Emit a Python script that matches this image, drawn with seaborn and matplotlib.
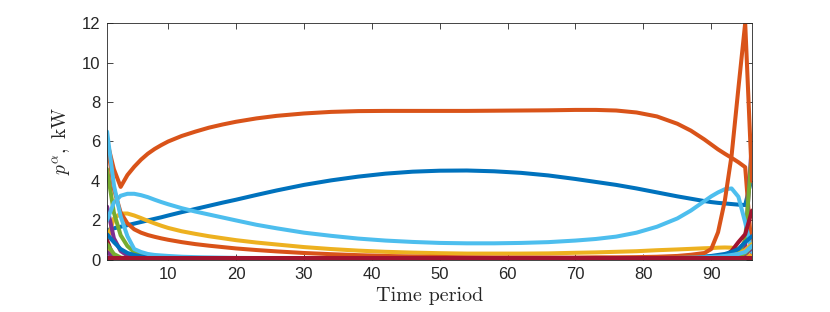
import numpy as np
import pandas as pd
import matplotlib
matplotlib.use("Agg")
import matplotlib.pyplot as plt
import seaborn as sns

# fine time grid for the smooth curves
t_fine = [1, 2, 3, 4, 5, 6, 7, 8, 9, 10, 12, 14, 16, 18, 20, 23, 26, 30, 34, 38, 42, 46,
          50, 54, 58, 62, 66, 70, 73, 76, 79, 82, 85, 87, 89, 90, 91, 92, 93, 94, 95, 96]
# coarse time grid for the lines that sit near zero
t_coarse = [1, 2, 3, 4, 5, 6, 7, 8, 10, 12, 15, 20, 30, 40, 50, 60, 70, 80, 85, 88, 90,
            91, 92, 93, 94, 95, 96]

blue_a = [1.5, 1.6, 1.68, 1.76, 1.84, 1.92, 2.0, 2.08, 2.16, 2.25, 2.42, 2.58, 2.74, 2.9,
          3.05, 3.29, 3.52, 3.8, 4.03, 4.22, 4.37, 4.47, 4.52, 4.53, 4.49, 4.41, 4.28, 4.1,
          3.95, 3.8, 3.62, 3.42, 3.22, 3.1, 2.98, 2.93, 2.89, 2.86, 2.83, 2.8, 2.78, 4.2]
orange_a = [6.0, 4.6, 3.7, 4.3, 4.72, 5.08, 5.38, 5.62, 5.82, 6.0, 6.28, 6.5, 6.7, 6.86,
            7.0, 7.17, 7.3, 7.42, 7.5, 7.54, 7.55, 7.55, 7.55, 7.55, 7.56, 7.57, 7.58, 7.6,
            7.6, 7.57, 7.47, 7.27, 6.9, 6.55, 6.1, 5.85, 5.6, 5.38, 5.17, 4.95, 4.7, 0.3]
yellow_a = [1.0, 2.1, 2.35, 2.35, 2.25, 2.12, 1.98, 1.85, 1.73, 1.62, 1.45, 1.32, 1.2, 1.1,
            1.0, 0.88, 0.78, 0.65, 0.55, 0.47, 0.41, 0.37, 0.34, 0.32, 0.32, 0.32, 0.33, 0.36,
            0.38, 0.41, 0.44, 0.49, 0.53, 0.56, 0.59, 0.6, 0.62, 0.63, 0.62, 0.55, 0.35, 0.15]
lightblue_a = [2.0, 2.9, 3.25, 3.35, 3.35, 3.28, 3.18, 3.05, 2.93, 2.82, 2.62, 2.45, 2.3,
               2.15, 2.0, 1.78, 1.6, 1.38, 1.22, 1.08, 0.98, 0.91, 0.86, 0.84, 0.84, 0.86,
               0.9, 0.98, 1.06, 1.18, 1.38, 1.68, 2.1, 2.5, 2.98, 3.22, 3.42, 3.58, 3.62, 3.2,
               1.9, 0.4]
orange_b = [6.0, 3.6, 2.4, 1.85, 1.55, 1.38, 1.26, 1.17, 1.09, 1.02, 0.9, 0.8, 0.72, 0.65,
            0.58, 0.5, 0.43, 0.35, 0.29, 0.24, 0.2, 0.17, 0.15, 0.13, 0.12, 0.12, 0.12, 0.12,
            0.13, 0.13, 0.14, 0.16, 0.2, 0.26, 0.35, 0.55, 1.4, 3.0, 5.3, 8.7, 12.0, 4.0]

purple_a = [2.7, 1.1, 0.45, 0.22, 0.14, 0.1, 0.08, 0.06, 0.05, 0.05, 0.05, 0.05, 0.05, 0.05,
            0.05, 0.05, 0.05, 0.05, 0.06, 0.07, 0.08, 0.1, 0.12, 0.15, 0.25, 0.7, 6.0]
green_a = [4.6, 2.4, 1.25, 0.7, 0.4, 0.28, 0.2, 0.16, 0.12, 0.1, 0.08, 0.06, 0.06, 0.06,
           0.06, 0.06, 0.06, 0.06, 0.06, 0.08, 0.1, 0.12, 0.15, 0.2, 0.35, 1.0, 5.6]
darkred_a = [1.0, 0.08, 0.04, 0.03, 0.03, 0.03, 0.03, 0.03, 0.03, 0.03, 0.03, 0.03, 0.03,
             0.03, 0.03, 0.03, 0.03, 0.03, 0.03, 0.04, 0.05, 0.08, 0.2, 0.45, 0.9, 1.3, 2.5]
blue_b = [1.3, 0.9, 0.55, 0.35, 0.25, 0.18, 0.14, 0.12, 0.1, 0.09, 0.08, 0.08, 0.08, 0.08,
          0.08, 0.08, 0.08, 0.09, 0.1, 0.15, 0.2, 0.25, 0.3, 0.4, 0.55, 0.9, 1.2]
yellow_b = [0.6, 0.15, 0.08, 0.06, 0.05, 0.05, 0.05, 0.05, 0.05, 0.05, 0.05, 0.05, 0.05,
            0.05, 0.05, 0.05, 0.05, 0.05, 0.06, 0.08, 0.1, 0.12, 0.15, 0.2, 0.3, 0.5, 0.8]
purple_b = [0.4, 0.1, 0.05, 0.04, 0.04, 0.04, 0.04, 0.04, 0.04, 0.04, 0.04, 0.04, 0.04,
            0.04, 0.04, 0.04, 0.04, 0.04, 0.04, 0.05, 0.06, 0.07, 0.08, 0.1, 0.15, 0.3, 0.6]
green_b = [0.8, 0.3, 0.12, 0.07, 0.05, 0.05, 0.05, 0.05, 0.05, 0.05, 0.05, 0.05, 0.05,
           0.05, 0.05, 0.05, 0.05, 0.05, 0.05, 0.06, 0.07, 0.08, 0.1, 0.12, 0.18, 0.35, 0.7]
lightblue_b = [6.5, 3.8, 2.2, 1.2, 0.55, 0.4, 0.3, 0.25, 0.2, 0.16, 0.13, 0.1, 0.08, 0.08,
               0.08, 0.08, 0.08, 0.09, 0.1, 0.12, 0.15, 0.17, 0.2, 0.25, 0.3, 0.4, 0.7]
darkred_b = [0.08, 0.08, 0.08, 0.08, 0.08, 0.08, 0.08, 0.08, 0.08, 0.08, 0.08, 0.08, 0.08,
             0.08, 0.08, 0.08, 0.08, 0.08, 0.08, 0.08, 0.08, 0.08, 0.08, 0.08, 0.08, 0.08, 0.08]

# drawing order follows MATLAB's colour cycle (later lines on top)
series = [
    ("blue_a", t_fine, blue_a), ("orange_a", t_fine, orange_a),
    ("yellow_a", t_fine, yellow_a), ("purple_a", t_coarse, purple_a),
    ("green_a", t_coarse, green_a), ("lightblue_a", t_fine, lightblue_a),
    ("darkred_a", t_coarse, darkred_a), ("blue_b", t_coarse, blue_b),
    ("orange_b", t_fine, orange_b), ("yellow_b", t_coarse, yellow_b),
    ("purple_b", t_coarse, purple_b), ("green_b", t_coarse, green_b),
    ("lightblue_b", t_coarse, lightblue_b), ("darkred_b", t_coarse, darkred_b),
]

# MATLAB default colour order
matlab = {"blue": "#0072BD", "orange": "#D95319", "yellow": "#EDB120", "purple": "#7E2F8E",
          "green": "#77AC30", "lightblue": "#4DBEEE", "darkred": "#A2142F"}
palette = {name: matlab[name.rsplit("_", 1)[0]] for name, _, _ in series}

df = pd.concat([pd.DataFrame({"t": tt, "p": vals, "series": name})
                for name, tt, vals in series], ignore_index=True)

sns.set_style("ticks")
plt.rcParams["font.family"] = ["Liberation Sans", "DejaVu Sans"]
plt.rcParams["mathtext.fontset"] = "cm"

fig = plt.figure(figsize=(8.3, 3.12), dpi=100)
ax = fig.add_axes([0.129, 0.167, 0.777, 0.759])

sns.lineplot(data=df, x="t", y="p", hue="series", hue_order=[s[0] for s in series],
             palette=palette, linewidth=2.9, legend=False, estimator=None, sort=False, ax=ax)

ax.set_xlim(1, 96)
ax.set_ylim(0, 12)
ax.set_xticks([10, 20, 30, 40, 50, 60, 70, 80, 90])
ax.set_yticks([0, 2, 4, 6, 8, 10, 12])
ax.tick_params(direction="in", length=4, width=0.6, color="#262626", labelsize=12,
               labelcolor="#262626", top=True, right=True, pad=5)
for s in ax.spines.values():
    s.set_visible(True)
    s.set_linewidth(0.6)
    s.set_color("#262626")

ax.set_xlabel("Time period", fontfamily="cmr10", fontsize=14.5, labelpad=4, color="#262626")
ax.set_ylabel(r"$p^{\alpha}\mathrm{,\ kW}$", fontsize=14, labelpad=6, color="#262626")

fig.savefig("out.png", dpi=100)
